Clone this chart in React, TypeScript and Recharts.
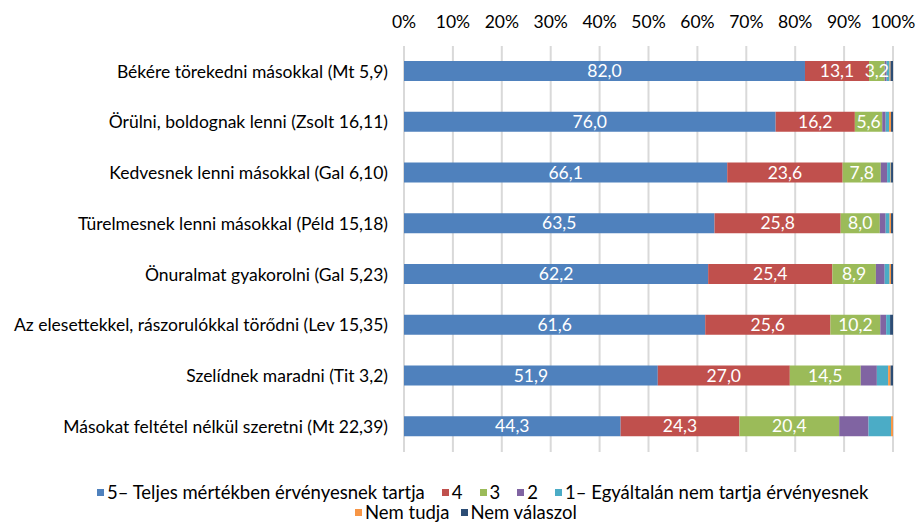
import React from 'react'
import {
  BarChart, Bar, XAxis, YAxis, CartesianGrid, LabelList,
} from 'recharts'

const statements = [
  'Békére törekedni másokkal (Mt 5,9)',
  'Örülni, boldognak lenni (Zsolt 16,11)',
  'Kedvesnek lenni másokkal (Gal 6,10)',
  'Türelmesnek lenni másokkal (Péld 15,18)',
  'Önuralmat gyakorolni (Gal 5,23)',
  'Az elesettekkel, rászorulókkal törődni (Lev 15,35)',
  'Szelídnek maradni (Tit 3,2)',
  'Másokat feltétel nélkül szeretni (Mt 22,39)',
]

const s5 = [82.0, 76.0, 66.1, 63.5, 62.2, 61.6, 51.9, 44.3]
const s4 = [13.1, 16.2, 23.6, 25.8, 25.4, 25.6, 27.0, 24.3]
const s3 = [3.2, 5.6, 7.8, 8.0, 8.9, 10.2, 14.5, 20.4]
const s2 = [0.4, 0.7, 1.3, 1.2, 1.8, 1.2, 3.3, 6.0]
const s1 = [0.6, 0.7, 0.7, 0.8, 1.0, 0.8, 2.3, 4.6]
const nemTudja = [0.2, 0.4, 0.1, 0.3, 0.3, 0.0, 0.5, 0.4]
const nemValaszol = [0.5, 0.4, 0.4, 0.4, 0.4, 0.6, 0.5, 0.0]

const xTicks = [0, 10, 20, 30, 40, 50, 60, 70, 80, 90, 100]

const series = [
  { key: 's5', name: '5– Teljes mértékben érvényesnek tartja', color: '#4F81BD', label: true },
  { key: 's4', name: '4', color: '#C0504D', label: true },
  { key: 's3', name: '3', color: '#9BBB59', label: true },
  { key: 's2', name: '2', color: '#8064A2', label: false },
  { key: 's1', name: '1– Egyáltalán nem tartja érvényesnek', color: '#4BACC6', label: false },
  { key: 'nt', name: 'Nem tudja', color: '#F79646', label: false },
  { key: 'nv', name: 'Nem válaszol', color: '#2C4D75', label: false },
]

const data = statements.map((name, i) => ({
  name,
  s5: s5[i], s4: s4[i], s3: s3[i], s2: s2[i], s1: s1[i],
  nt: nemTudja[i], nv: nemValaszol[i],
}))

const FONT = 'Lato, "Noto Sans", sans-serif'
const FS = 17.5

const fmt = (v: any) => Number(v).toFixed(1).replace('.', ',')

function LegendBox() {
  const item = (s: typeof series[number], gap: number) => (
    <div key={s.key} style={{ display: 'flex', alignItems: 'center', marginRight: gap }}>
      <div style={{ width: 7, height: 7, background: s.color, marginRight: 3 }} />
      <span>{s.name}</span>
    </div>
  )
  const row1 = series.slice(0, 5)
  const row2 = series.slice(5)
  const rowStyle = { display: 'flex', alignItems: 'center', height: 20, whiteSpace: 'nowrap' as const }
  return (
    <div style={{
      position: 'absolute', left: 0, top: 482, width: 916,
      fontFamily: FONT, fontSize: 18.5, color: '#000', lineHeight: '20px',
    }}>
      <div style={{ ...rowStyle, paddingLeft: 97 }}>{row1.map((s, i) => item(s, i === row1.length - 1 ? 0 : 17))}</div>
      <div style={{ ...rowStyle, paddingLeft: 355 }}>{row2.map((s, i) => item(s, i === row2.length - 1 ? 0 : 11))}</div>
    </div>
  )
}

export default function App() {
  return (
    <div style={{ position: 'fixed', left: 0, top: 0, width: 916, height: 522, background: '#fff', overflow: 'hidden' }}>
      <BarChart
        width={916}
        height={522}
        data={data}
        layout="vertical"
        margin={{ top: 0, right: 23, bottom: 70, left: 0 }}
        barSize={20}
      >
        <CartesianGrid horizontal={false} stroke="#D9D9D9" strokeWidth={2} />
        <XAxis
          type="number"
          orientation="top"
          domain={[0, 100]}
          ticks={xTicks}
          tickFormatter={(v: number) => `${v}%`}
          axisLine={false}
          tickLine={false}
          height={46}
          tickMargin={12}
          tick={{ fill: '#000', fontSize: FS, fontFamily: FONT }}
          interval={0}
        />
        <YAxis
          type="category"
          dataKey="name"
          width={404}
          axisLine={false}
          tickLine={false}
          tickMargin={10}
          tick={{ fill: '#000', fontSize: FS, fontFamily: FONT }}
          interval={0}
        />
        {series.map(s => (
          <Bar
            key={s.key}
            dataKey={s.key}
            name={s.name}
            stackId="a"
            fill={s.color}
            isAnimationActive={false}
          >
            {s.label && (
              <LabelList
                dataKey={s.key}
                position="center"
                formatter={fmt}
                fill="#fff"
                style={{ fontSize: FS, fontFamily: FONT }}
              />
            )}
          </Bar>
        ))}
      </BarChart>
      <LegendBox />
    </div>
  )
}
